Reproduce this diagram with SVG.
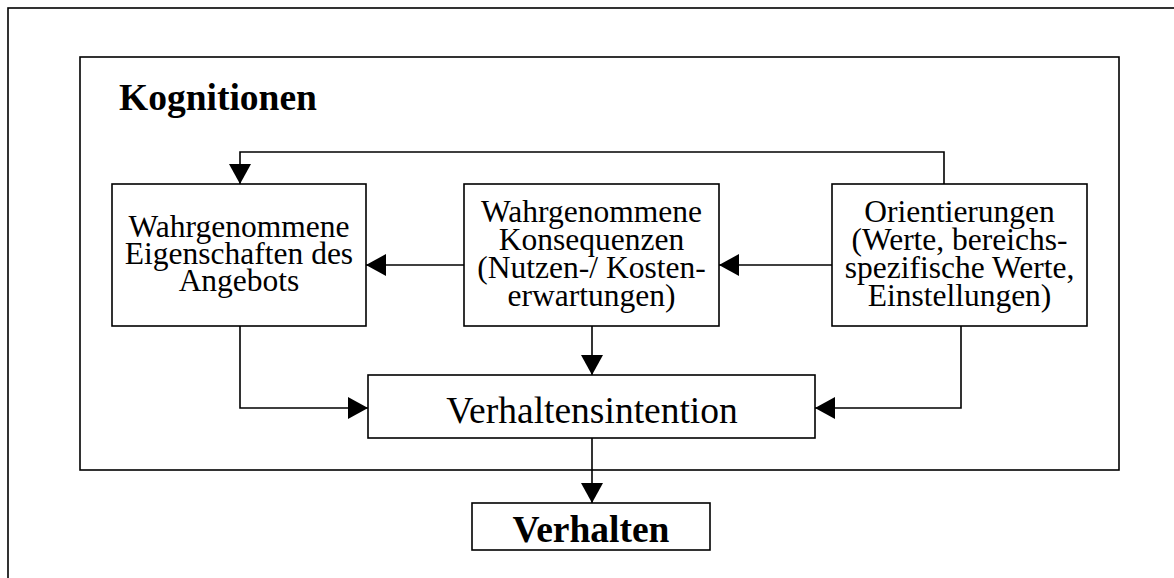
<svg xmlns="http://www.w3.org/2000/svg" width="1174" height="578" viewBox="0 0 1174 578">
<style>
.box{fill:#fff;stroke:#000;stroke-width:1.6}
.frame{fill:none;stroke:#000;stroke-width:1.6}
.con{fill:none;stroke:#000;stroke-width:1.6}
.t{font-family:"Liberation Serif","Times New Roman",serif;font-size:31.5px;fill:#000;text-anchor:middle}
.big{font-size:37.5px}
.b{font-weight:bold}
</style>
<defs>
<marker id="ah" markerUnits="userSpaceOnUse" markerWidth="21" markerHeight="22" refX="20" refY="11" orient="auto" viewBox="0 0 21 22">
<path d="M0,0 L20,11 L0,22 Z" fill="#000"/>
</marker>
</defs>
<rect width="1174" height="578" fill="#fff"/>
<rect class="frame" x="8" y="8" width="1200" height="620"/>
<g id="kognitionen">
<rect class="frame" x="80" y="57" width="1039" height="413"/>
<text class="t big b" x="119" y="110" style="text-anchor:start">Kognitionen</text>
</g>
<g id="connectors">
<path class="con" d="M944,184 V152 H240 V184" marker-end="url(#ah)"/>
<path class="con" d="M464,265 H366" marker-end="url(#ah)"/>
<path class="con" d="M832,265 H719" marker-end="url(#ah)"/>
<path class="con" d="M240,326 V408 H368" marker-end="url(#ah)"/>
<path class="con" d="M592,326 V375" marker-end="url(#ah)"/>
<path class="con" d="M961,326 V408 H815" marker-end="url(#ah)"/>
<path class="con" d="M592,438 V503" marker-end="url(#ah)"/>
</g>
<g id="eigenschaften">
<rect class="box" x="112" y="184" width="254" height="142"/>
<text class="t" x="239" y="237">Wahrgenommene</text>
<text class="t" x="239" y="264">Eigenschaften des</text>
<text class="t" x="239" y="291">Angebots</text>
</g>
<g id="konsequenzen">
<rect class="box" x="464" y="184" width="255" height="142"/>
<text class="t" x="591.5" y="222">Wahrgenommene</text>
<text class="t" x="591.5" y="250">Konsequenzen</text>
<text class="t" x="591.5" y="278">(Nutzen-/ Kosten-</text>
<text class="t" x="591.5" y="306">erwartungen)</text>
</g>
<g id="orientierungen">
<rect class="box" x="832" y="184" width="255" height="142"/>
<text class="t" x="959.5" y="222">Orientierungen</text>
<text class="t" x="959.5" y="250">(Werte, bereichs-</text>
<text class="t" x="959.5" y="278">spezifische Werte,</text>
<text class="t" x="959.5" y="306">Einstellungen)</text>
</g>
<g id="verhaltensintention">
<rect class="box" x="368" y="375" width="447" height="63"/>
<text class="t big" x="592" y="423">Verhaltensintention</text>
</g>
<g id="verhalten">
<rect class="box" x="472" y="503" width="238" height="47"/>
<text class="t big b" x="591" y="542">Verhalten</text>
</g>
</svg>
